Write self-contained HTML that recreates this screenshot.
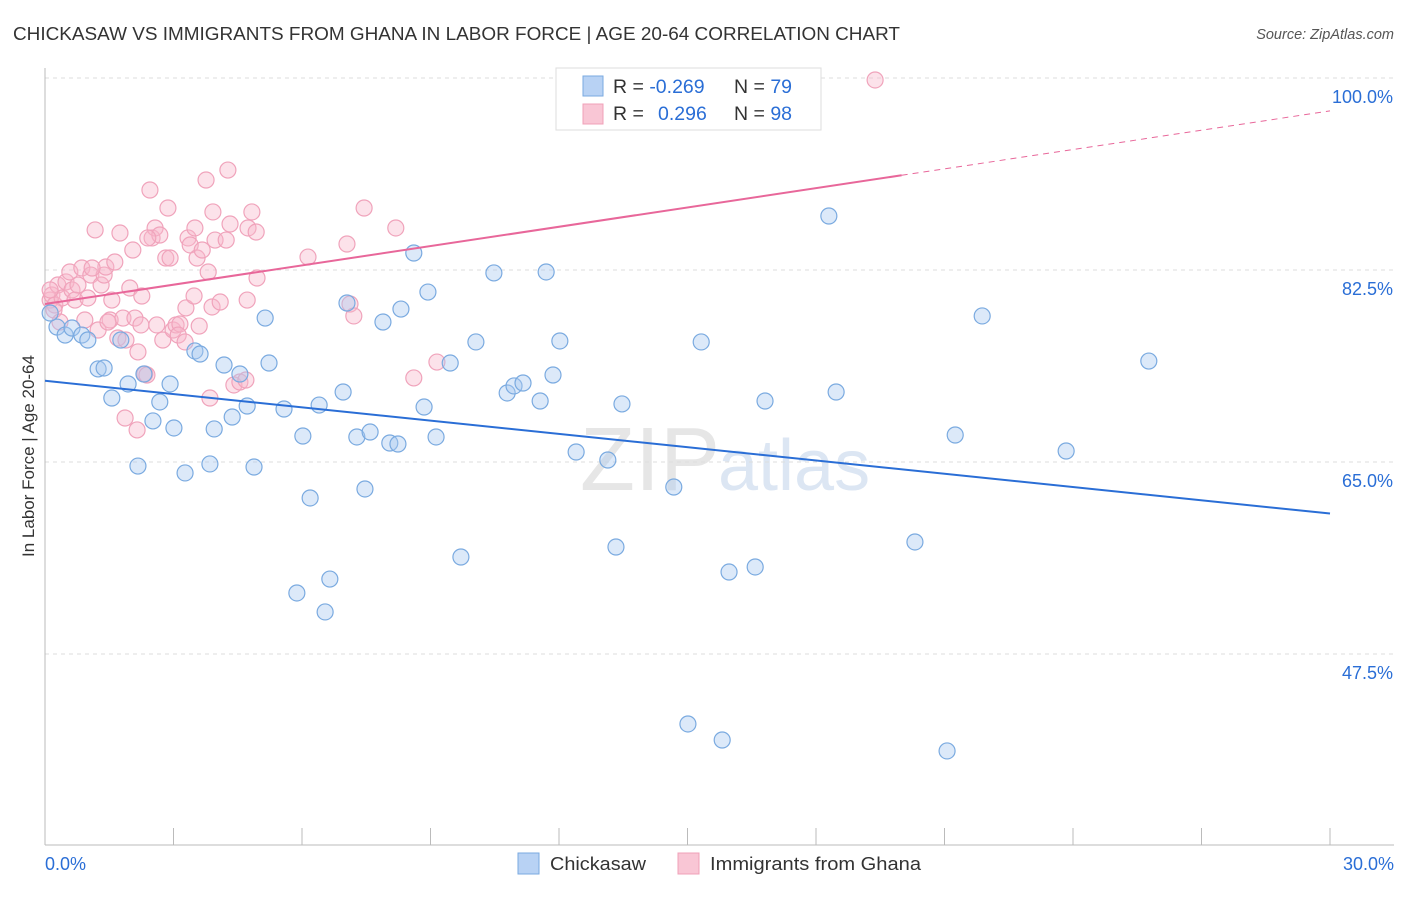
<!DOCTYPE html>
<html><head><meta charset="utf-8"><style>
body{margin:0;background:#fff;font-family:"Liberation Sans",sans-serif;}
svg text{font-family:"Liberation Sans",sans-serif;}
</style></head><body>
<svg id="c" width="1406" height="892" xmlns="http://www.w3.org/2000/svg">
<text x="13" y="40" font-size="18" fill="#333" textLength="887" lengthAdjust="spacingAndGlyphs">CHICKASAW VS IMMIGRANTS FROM GHANA IN LABOR FORCE | AGE 20-64 CORRELATION CHART</text>
<text x="1394" y="39" font-size="14.5" fill="#555" font-style="italic" text-anchor="end">Source: ZipAtlas.com</text>
<text x="720" y="490" font-size="90" fill="#e6e6e6" text-anchor="end" font-family="Liberation Serif">ZIP</text>
<text x="718" y="490" font-size="72" fill="#dce6f3">atlas</text>
<text transform="translate(34,456) rotate(-90)" font-size="17" fill="#333" text-anchor="middle">In Labor Force | Age 20-64</text>
<g id="grid"></g><g id="pts"></g><g id="lines"></g>
<g>
<rect x="556" y="68" width="265" height="62" fill="#fff" stroke="#ddd"/>
<rect x="583" y="76" width="20" height="20" fill="#b8d2f4" stroke="#7aaae0"/>
<rect x="583" y="104" width="20" height="20" fill="#f9c6d5" stroke="#f0a0b8"/>
<text x="613" y="93" font-size="19.5" fill="#333">R = <tspan fill="#2a6ed6">-0.269</tspan><tspan x="734">N = </tspan><tspan fill="#2a6ed6">79</tspan></text>
<text x="613" y="120" font-size="19.5" fill="#333">R = <tspan fill="#2a6ed6" x="658">0.296</tspan><tspan x="734">N = </tspan><tspan fill="#2a6ed6">98</tspan></text>
</g>
<g>
<rect x="518" y="853" width="21" height="21" fill="#b8d2f4" stroke="#7aaae0"/>
<text x="550" y="870" font-size="18" fill="#333" textLength="96" lengthAdjust="spacingAndGlyphs">Chickasaw</text>
<rect x="678" y="853" width="21" height="21" fill="#f9c6d5" stroke="#f0a0b8"/>
<text x="710" y="870" font-size="18" fill="#333" textLength="211" lengthAdjust="spacingAndGlyphs">Immigrants from Ghana</text>
</g>
</svg>
<script>
const yTicks=[100,82.5,65,47.5];
const yTickLabels=["100.0%","82.5%","65.0%","47.5%"];
const xTickLabels=["0.0%","30.0%"];
const bluePx=[[57,327],[65,335],[72,328],[82,335],[88,340],[98,369],[104,368],[112,398],[121,340],[128,384],[138,466],[144,374],[153,421],[160,402],[170,384],[174,428],[185,473],[195,351],[200,354],[210,464],[214,429],[224,365],[232,417],[240,374],[247,406],[254,467],[265,318],[269,363],[284,409],[303,436],[310,498],[319,405],[297,593],[330,579],[325,612],[343,392],[347,303],[357,437],[365,489],[370,432],[383,322],[390,443],[398,444],[401,309],[414,253],[424,407],[428,292],[436,437],[450,363],[461,557],[476,342],[494,273],[507,393],[514,386],[523,383],[540,401],[546,272],[553,375],[560,341],[576,452],[608,460],[616,547],[622,404],[674,487],[688,724],[701,342],[722,740],[729,572],[755,567],[765,401],[829,216],[836,392],[915,542],[947,751],[955,435],[982,316],[1066,451],[1149,361],[50,313]];
const pinkPx=[[50,300],[52,295],[55,305],[58,285],[62,298],[66,282],[70,272],[72,290],[75,300],[78,285],[82,268],[85,320],[88,298],[91,275],[95,230],[98,330],[101,285],[104,275],[106,267],[110,320],[112,300],[115,262],[118,338],[120,233],[123,318],[126,340],[130,288],[133,250],[135,318],[138,352],[141,325],[142,296],[145,374],[147,375],[150,190],[152,238],[155,228],[157,325],[160,235],[163,340],[166,258],[168,208],[170,258],[173,330],[176,325],[180,324],[186,308],[188,238],[190,245],[194,296],[195,228],[197,258],[199,326],[202,250],[206,180],[208,272],[210,398],[212,307],[213,212],[215,240],[220,302],[226,240],[228,170],[230,224],[234,385],[240,382],[246,380],[247,300],[248,228],[252,212],[256,232],[257,278],[308,257],[347,244],[350,304],[354,316],[364,208],[396,228],[414,378],[437,362],[875,80],[125,418],[137,430],[50,290],[54,310],[60,322],[92,268],[108,322],[148,238],[178,335],[185,342]];
const blueX=bluePx.map(p=>+((p[0]-45)/1285*30).toFixed(2));
const blueY=bluePx.map(p=>+(100-(p[1]-78)/10.971).toFixed(2));
const pinkX=pinkPx.map(p=>+((p[0]-45)/1285*30).toFixed(2));
const pinkY=pinkPx.map(p=>+(100-(p[1]-78)/10.971).toFixed(2));
const blueTrend=[72.4,60.3];
const pinkTrend=[79.4,97.0];
const NS="http://www.w3.org/2000/svg";
const sx=v=>45+v/30*1285;
const sy=v=>78+(100-v)*10.971;
function mk(tag,attrs,parent){const e=document.createElementNS(NS,tag);for(const k in attrs)e.setAttribute(k,attrs[k]);parent.appendChild(e);return e;}
const grid=document.getElementById('grid');
yTicks.forEach((t,i)=>{
 const l=mk('line',{x1:45,x2:1394,y1:sy(t),y2:sy(t),stroke:'#ddd','stroke-dasharray':'4,4'},grid);
 
 
 const tx=mk('text',{x:1393,y:sy(t)+25,'font-size':18,fill:'#2a6ed6','text-anchor':'end'},grid);
 tx.textContent=yTickLabels[i];
 
 
});
mk('line',{x1:45,x2:45,y1:68,y2:845,stroke:'#bbb'},grid);
mk('line',{x1:45,x2:1394,y1:845,y2:845,stroke:'#bbb'},grid);
for(let i=0;i<=10;i++){
 const t=mk('line',{x1:sx(i*3),x2:sx(i*3),y1:828,y2:845,stroke:'#bbb'},grid);
 
 
}
const xl0=mk('text',{x:45,y:870,'font-size':18,fill:'#2a6ed6'},grid);xl0.textContent=xTickLabels[0];


const xl1=mk('text',{x:1394,y:870,'font-size':18,fill:'#2a6ed6','text-anchor':'end'},grid);xl1.textContent=xTickLabels[1];


const pts=document.getElementById('pts');
pinkX.forEach((x,i)=>{
 const c=mk('circle',{cx:sx(x),cy:sy(pinkY[i]),r:8,fill:'rgba(248,182,202,0.4)',stroke:'#f0a3bb','stroke-width':1.2},pts);
 
 
});
blueX.forEach((x,i)=>{
 const c=mk('circle',{cx:sx(x),cy:sy(blueY[i]),r:8,fill:'rgba(168,200,240,0.4)',stroke:'#7aaae0','stroke-width':1.2},pts);
 
 
});
const lines=document.getElementById('lines');
const bl=mk('line',{x1:sx(0),y1:sy(blueTrend[0]),x2:sx(30),y2:sy(blueTrend[1]),stroke:'#2a6ed6','stroke-width':2},lines);


const xm=20;const pm=pinkTrend[0]+(pinkTrend[1]-pinkTrend[0])*xm/30;
const pl=mk('line',{x1:sx(0),y1:sy(pinkTrend[0]),x2:sx(xm),y2:sy(pm),stroke:'#e8679a','stroke-width':2},lines);


const pd=mk('line',{x1:sx(xm),y1:sy(pm),x2:sx(30),y2:sy(pinkTrend[1]),stroke:'#e8679a','stroke-width':1,'stroke-dasharray':'6,5'},lines);


</script>
</body></html>
